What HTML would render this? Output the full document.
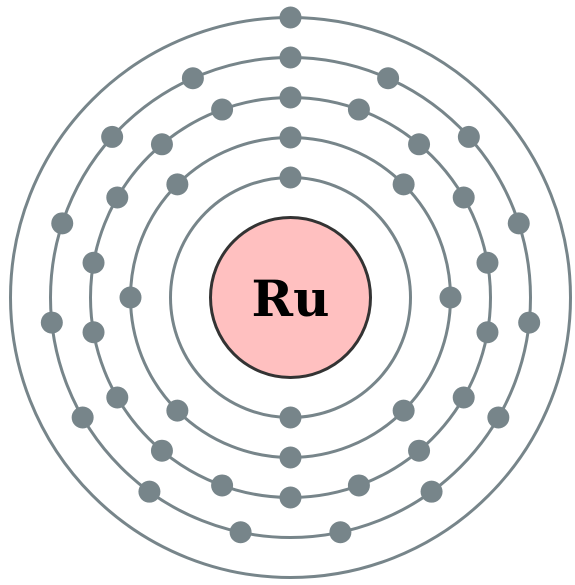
<!DOCTYPE html>
<html>
<head>
<meta charset="utf-8">
<style>
  html, body { margin: 0; padding: 0; background: #ffffff; }
  svg { display: block; }
</style>
</head>
<body>
<svg id="chart" width="575" height="585" viewBox="0 0 575 585" xmlns="http://www.w3.org/2000/svg">
  <g id="shells"></g>
  <circle cx="290.5" cy="297.5" r="80" fill="#ffc0c0" stroke="#333333" stroke-width="3"/>
  <text x="290.5" y="316" text-anchor="middle" font-family="'DejaVu Serif', 'Liberation Serif', serif" font-weight="bold" font-size="50" fill="#000000">Ru</text>
  <g id="electrons"></g>
</svg>
<script>
const shellNames = ["K", "L", "M", "N", "O"];
const electronsPerShell = [2, 8, 18, 15, 1];

const cx = 290.5, cy = 297.5;
const firstRadius = 120, shellGap = 40, electronR = 11;
const color = "#77858a";
const NS = "http://www.w3.org/2000/svg";
const shellG = document.getElementById("shells");
const elecG = document.getElementById("electrons");

function shellRadius(i) { return firstRadius + i * shellGap; }

electronsPerShell.forEach((n, i) => {
  const r = shellRadius(i);
  const c = document.createElementNS(NS, "circle");
  
  
  c.setAttribute("cx", cx); c.setAttribute("cy", cy); c.setAttribute("r", r);
  c.setAttribute("fill", "none"); c.setAttribute("stroke", color); c.setAttribute("stroke-width", "3");
  shellG.appendChild(c);
  for (let k = 0; k < n; k++) {
    const a = (k / n) * 2 * Math.PI;
    const e = document.createElementNS(NS, "circle");
    
    
    e.setAttribute("cx", cx + r * Math.sin(a));
    e.setAttribute("cy", cy - r * Math.cos(a));
    e.setAttribute("r", electronR);
    e.setAttribute("fill", color);
    elecG.appendChild(e);
  }
});
</script>
</body>
</html>
